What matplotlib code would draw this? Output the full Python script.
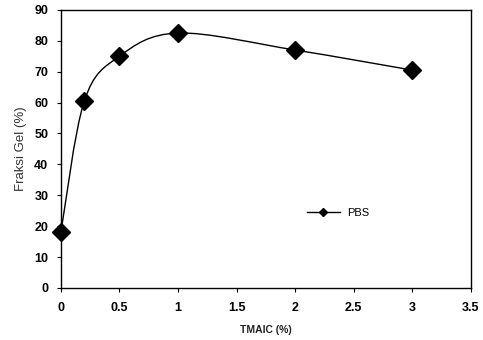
import matplotlib
matplotlib.use("Agg")
import matplotlib.pyplot as plt
import numpy as np
from matplotlib.path import Path
from matplotlib.patches import PathPatch
from matplotlib.lines import Line2D

x_vals = [0, 0.2, 0.5, 1, 2, 3]
gel_fraction = [18, 60.5, 75, 82.5, 77, 70.5]
x_ticks = [0, 0.5, 1, 1.5, 2, 2.5, 3, 3.5]
x_tick_labels = ["0", "0.5", "1", "1.5", "2", "2.5", "3", "3.5"]
y_ticks = [0, 10, 20, 30, 40, 50, 60, 70, 80, 90]
series_label = "PBS"

fig = plt.figure(figsize=(4.83, 3.40), dpi=100)
ax = fig.add_axes([0.126, 0.153, 0.849, 0.818])

# Excel-style smoothed line (Catmull-Rom Bezier) through the data points
pts = np.column_stack([x_vals, gel_fraction]).astype(float)
n = len(pts)
verts = [tuple(pts[0])]
codes = [Path.MOVETO]
for i in range(n - 1):
    p0 = pts[i - 1] if i > 0 else pts[i]
    p1 = pts[i]
    p2 = pts[i + 1]
    p3 = pts[i + 2] if i + 2 < n else pts[i + 1]
    c1 = p1 + (p2 - p0) / 6.0
    c2 = p2 - (p3 - p1) / 6.0
    verts += [tuple(c1), tuple(c2), tuple(p2)]
    codes += [Path.CURVE4] * 3
ax.add_patch(PathPatch(Path(verts, codes), facecolor="none", edgecolor="black", lw=1.0))
ax.plot(x_vals, gel_fraction, linestyle="none", marker="D", markersize=9.5,
        color="black", clip_on=False, zorder=5)

ax.set_xlim(0, 3.5)
ax.set_ylim(0, 90)
ax.set_xticks(x_ticks)
ax.set_xticklabels(x_tick_labels)
ax.set_yticks(y_ticks)
for lbl in ax.get_xticklabels() + ax.get_yticklabels():
    lbl.set_fontfamily("Liberation Sans")
    lbl.set_fontweight("bold")
    lbl.set_fontsize(9)
ax.tick_params(direction="out", length=3, width=0.8, pad=6)
ax.tick_params(axis="x", pad=7)
for s in ax.spines.values():
    s.set_linewidth(1.0)
    s.set_color("black")

ax.set_xlabel("TMAIC (%)", fontsize=7.5, fontfamily="Liberation Sans",
              fontweight="bold", color="#222222", labelpad=8)
ax.set_ylabel("Fraksi Gel (%)", fontsize=9.5, fontfamily="Liberation Sans",
              color="#333333", labelpad=5)

handle = Line2D([], [], color="black", lw=1.0, marker="D", markersize=4)
ax.legend([handle], [series_label], loc="center left", bbox_to_anchor=(0.575, 0.27),
          frameon=False, prop={"family": "Liberation Sans", "size": 8},
          handlelength=3, handletextpad=0.6)

fig.savefig("out.png", dpi=100)
